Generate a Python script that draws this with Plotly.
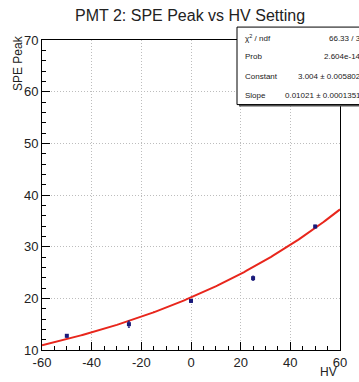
import numpy as np
import plotly.graph_objects as go

# Measured SPE peak position per HV offset
hv = [-50, -25, 0, 25, 50]
spe_peak = [12.75, 15.0, 19.5, 23.9, 33.9]
spe_err = [0.25, 0.6, 0.25, 0.4, 0.25]

# Exponential fit parameters: exp(constant + slope * HV)
fit_constant = 3.004
fit_slope = 0.01021
stats_labels = ["χ<sup>2</sup> / ndf", "Prob", "Constant", "Slope"]
stats_values = ["66.33 / 3", "2.604e-14", "3.004 ± 0.005802", "0.01021 ± 0.0001351"]

x_ticks = [-60, -40, -20, 0, 20, 40, 60]
x_tick_labels = ["-60", "-40", "-20", "0", "20", "40", "60"]
y_ticks = [10, 20, 30, 40, 50, 60, 70]
y_tick_labels = ["10", "20", "30", "40", "50", "60", "70"]

FONT = "Liberation Sans, Arial, sans-serif"

fit_x = np.linspace(-60, 60, 200)
fit_y = np.exp(fit_constant + fit_slope * fit_x)

fig = go.Figure()
fig.add_trace(go.Scatter(
    x=fit_x, y=fit_y, mode="lines",
    line=dict(color="#e8261c", width=2), hoverinfo="skip"))
fig.add_trace(go.Scatter(
    x=hv, y=spe_peak, mode="markers",
    marker=dict(symbol="square", size=4, color="#1a1a7a"),
    error_y=dict(type="data", array=spe_err, color="#1a1a7a", thickness=1, width=1)))

axis_common = dict(
    showline=True, linecolor="black", linewidth=1, mirror=True,
    ticks="inside", ticklen=8, tickcolor="black",
    showgrid=True, gridcolor="#bdbdbd", griddash="1px,2px", gridwidth=1,
    zeroline=False, tickfont=dict(family=FONT, size=13, color="#222"),
)

fig.update_xaxes(range=[-60, 60], tickvals=x_ticks, ticktext=x_tick_labels,
                 minor=dict(dtick=5, ticklen=4, ticks="inside", tickcolor="black", showgrid=False),
                 **axis_common)
fig.update_yaxes(range=[10, 70], tickvals=y_ticks, ticktext=y_tick_labels,
                 minor=dict(dtick=2, ticklen=4, ticks="inside", tickcolor="black", showgrid=False),
                 **axis_common)

# pixel -> paper coordinate helpers (plot area spans x 42..340, y 40..352)
px_w, px_h = 298.0, 312.0
def px(xp):
    return (xp - 42) / px_w
def py(yp):
    return 1 - (yp - 40) / px_h

annotations = [
    dict(text="PMT 2: SPE Peak vs HV Setting", x=px(190), y=py(15), xref="paper", yref="paper",
         xanchor="center", yanchor="middle",
         showarrow=False, font=dict(family=FONT, size=16, color="#222")),
    dict(text="HV", xref="paper", yref="paper", x=px(339), y=py(374), xanchor="right",
         yanchor="middle", showarrow=False, font=dict(family=FONT, size=12, color="#222")),
    dict(text="SPE Peak", xref="paper", yref="paper", x=px(18), y=py(33), xanchor="center",
         yanchor="top", textangle=-90, showarrow=False,
         font=dict(family=FONT, size=12, color="#222")),
]

# Stats box (extends past the right edge of the canvas)
shapes = [
    dict(type="rect", xref="paper", yref="paper", x0=px(239), x1=px(372), y0=py(107), y1=py(29),
         fillcolor="#555", line=dict(width=0), layer="above"),
    dict(type="rect", xref="paper", yref="paper", x0=px(237), x1=px(370), y0=py(105), y1=py(27),
         fillcolor="white", line=dict(color="black", width=1), layer="above"),
]
rows_y = [38, 57, 77, 96]
for lab, val, yy in zip(stats_labels, stats_values, rows_y):
    annotations.append(dict(text=lab, xref="paper", yref="paper", x=px(243), y=py(yy),
                            xanchor="left", yanchor="middle", showarrow=False,
                            font=dict(family=FONT, size=8, color="#222")))
    annotations.append(dict(text=val, xref="paper", yref="paper", x=px(363), y=py(yy),
                            xanchor="right", yanchor="middle", showarrow=False,
                            font=dict(family=FONT, size=8, color="#222")))

fig.update_layout(
    width=359, height=382,
    margin=dict(l=42, r=19, t=40, b=30),
    paper_bgcolor="white", plot_bgcolor="white",
    showlegend=False, shapes=shapes, annotations=annotations,
)

fig.write_html("out.html")
